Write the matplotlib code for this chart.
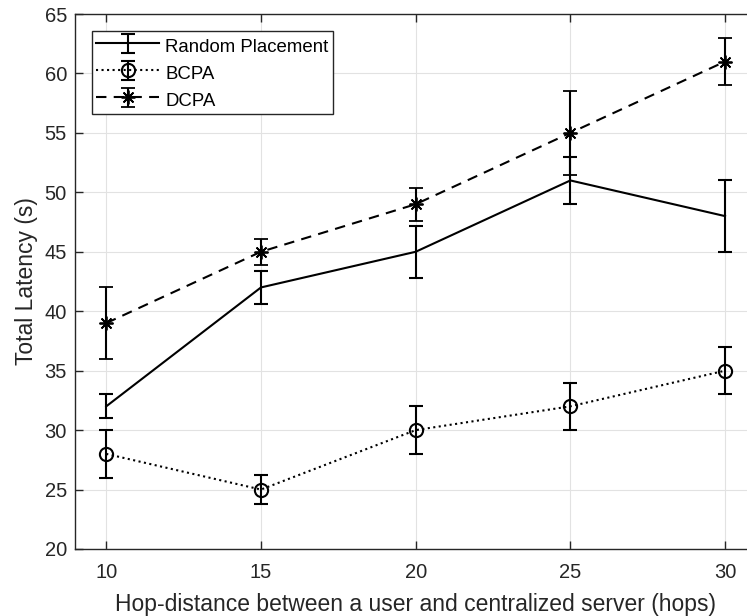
import numpy as np
import matplotlib.pyplot as plt

hops = [10, 15, 20, 25, 30]
random_lat = [32, 42, 45, 51, 48]
random_err = [1, 1.4, 2.2, 2, 3]
bcpa_lat = [28, 25, 30, 32, 35]
bcpa_err = [2, 1.2, 2, 2, 2]
dcpa_lat = [39, 45, 49, 55, 61]
dcpa_err = [3, 1.1, 1.4, 3.5, 2]

plt.rcParams['font.family'] = ['Liberation Sans', 'DejaVu Sans']
plt.rcParams['font.size'] = 14.5
txt = '#262626'

fig = plt.figure(figsize=(7.47, 6.16), dpi=100)
ax = fig.add_axes([75.3/747, 67/616, (756-75.3)/747, (549-14)/616])

kw = dict(color='k', lw=1.5, capsize=4.7, capthick=1.5, elinewidth=1.5)
ax.errorbar(hops, random_lat, yerr=random_err, ls='-', label='Random Placement', **kw)
ax.errorbar(hops, bcpa_lat, yerr=bcpa_err, ls=':', marker='o', ms=9.5,
            mfc='none', mec='k', mew=1.5, label='BCPA', **kw)
ax.errorbar(hops, dcpa_lat, yerr=dcpa_err, ls=(0, (5, 3.5)), marker=(8, 2, 0), ms=10,
            mec='k', mew=1.3, label='DCPA', **kw)

ax.set_xlim(9, 31)
ax.set_ylim(20, 65)
ax.set_xticks([10, 15, 20, 25, 30])
ax.set_yticks(np.arange(20, 66, 5))
ax.grid(True, color='#e2e2e2', lw=0.8)
ax.set_axisbelow(True)
ax.tick_params(direction='in', length=6, width=1, colors=txt, top=True, right=True)
ax.tick_params(axis='x', pad=10)
ax.tick_params(axis='y', pad=6)
for s in ax.spines.values():
    s.set_color(txt)
    s.set_linewidth(1)

ax.set_xlabel('Hop-distance between a user and centralized server (hops)',
              color=txt, fontsize=16.5, labelpad=8)
ax.set_ylabel('Total Latency (s)', color=txt, fontsize=16.5, labelpad=5)

leg = ax.legend(loc='upper left', bbox_to_anchor=(17/681, 1-17/535), borderaxespad=0,
                fancybox=False, framealpha=1, edgecolor=txt, fontsize=13.4,
                handlelength=3.39, handleheight=1.39, handletextpad=0.32,
                labelspacing=0.30, borderpad=0.215)
leg.get_frame().set_linewidth(1)
for t in leg.get_texts():
    t.set_color('k')

fig.savefig('out.png', dpi=100)
